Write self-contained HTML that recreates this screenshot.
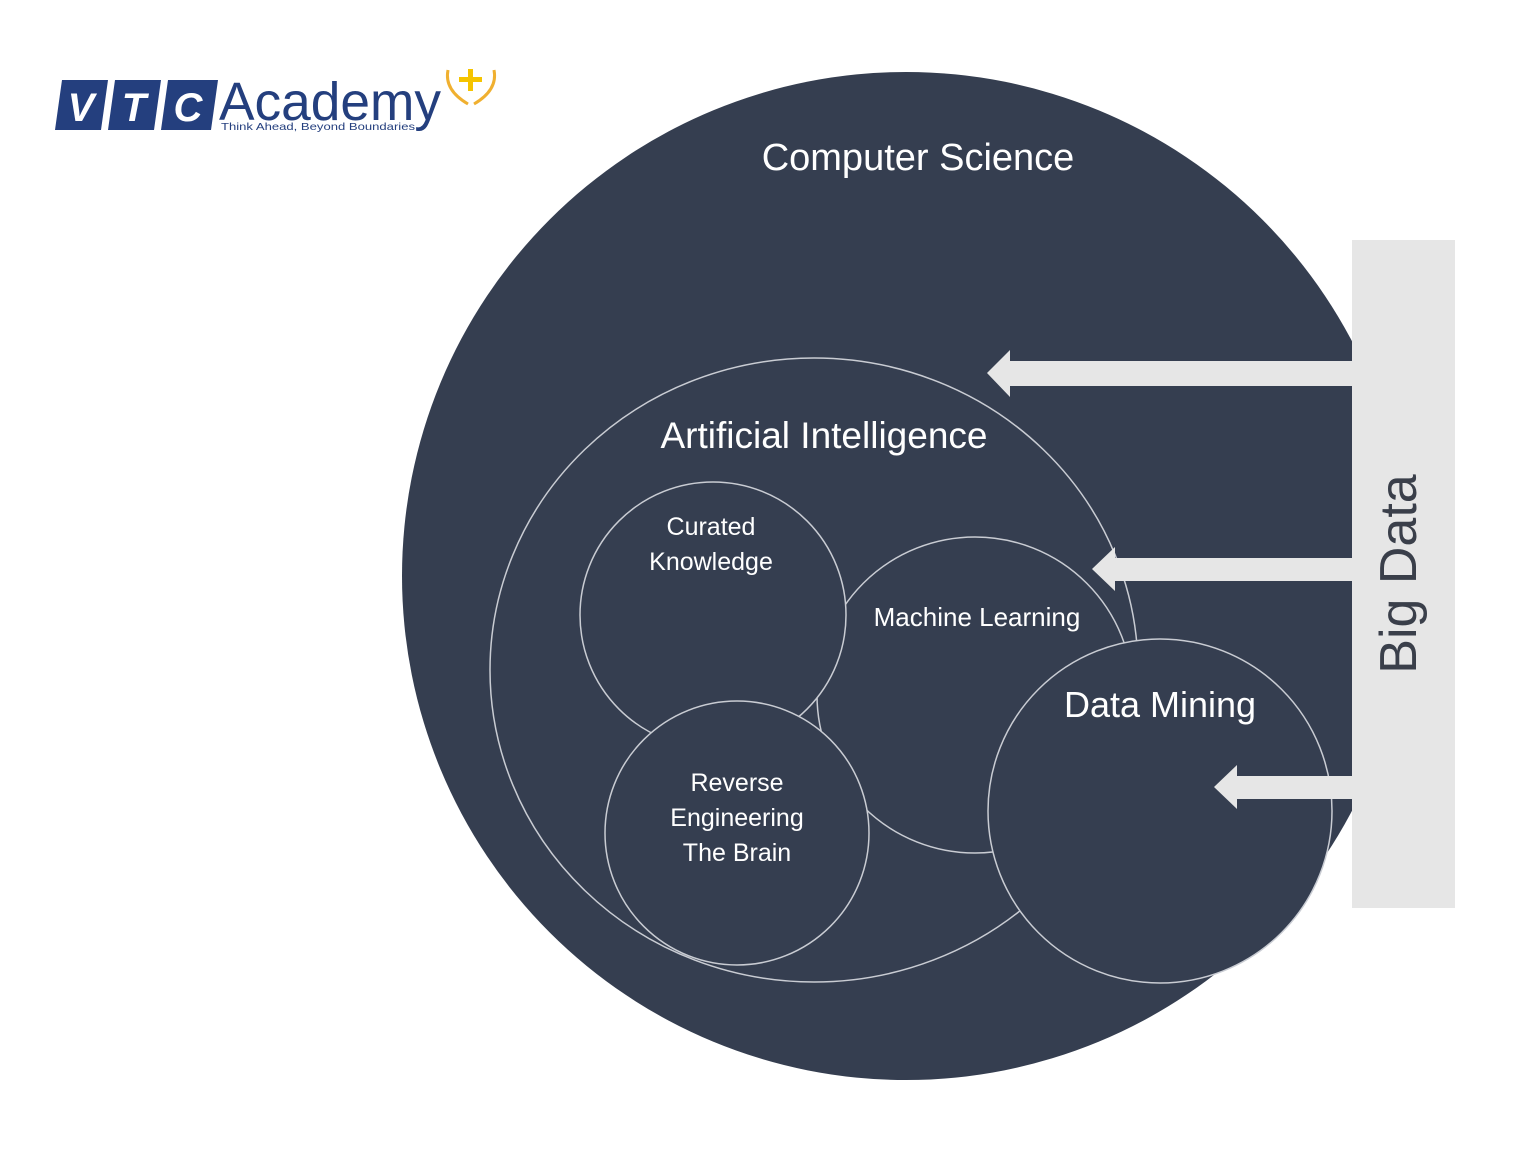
<!DOCTYPE html>
<html><head><meta charset="utf-8"><style>
html,body{margin:0;padding:0;background:#fff;}
svg{display:block;}
text{font-family:"Liberation Sans",sans-serif;}
</style></head><body>
<svg width="1536" height="1152" viewBox="0 0 1536 1152" xmlns="http://www.w3.org/2000/svg">
<defs><clipPath id="c"><rect x="0" y="0" width="1352" height="1152"/></clipPath></defs>
<polygon points="62,80 108,80 101,130 55,130" fill="#243f7e"/>
<polygon points="115,80 161,80 154,130 108,130" fill="#243f7e"/>
<polygon points="168,80 218,80 211,130 161,130" fill="#243f7e"/>
<text x="81" y="121" font-size="40" font-weight="bold" font-style="italic" fill="#fff" text-anchor="middle">V</text>
<text x="134" y="121" font-size="40" font-weight="bold" font-style="italic" fill="#fff" text-anchor="middle">T</text>
<text x="188" y="121" font-size="40" font-weight="bold" font-style="italic" fill="#fff" text-anchor="middle">C</text>
<text x="219" y="120" font-size="54" fill="#243f7e" textLength="222" lengthAdjust="spacingAndGlyphs">Academy</text>
<text x="221" y="130" font-size="10.5" fill="#243f7e" textLength="194" lengthAdjust="spacingAndGlyphs">Think Ahead, Beyond Boundaries</text>
<rect x="468" y="69" width="5" height="22" fill="#f5c400"/>
<rect x="459" y="77" width="23" height="5" fill="#f5c400"/>
<path d="M448,70 Q444,90 468,104" stroke="#f0b030" stroke-width="3" fill="none"/>
<path d="M494,70 Q498,90 474,104" stroke="#f0b030" stroke-width="3" fill="none"/>
<g clip-path="url(#c)">
<circle cx="906" cy="576" r="504" fill="#353e50"/>
</g>
<g fill="#353e50" stroke="#c9ccd3" stroke-width="1.5">
<ellipse cx="814" cy="670" rx="324" ry="312"/>
<circle cx="975" cy="695" r="158"/>
<circle cx="713" cy="615" r="133"/>
<circle cx="737" cy="833" r="132"/>
<circle cx="1160" cy="811" r="172"/>
</g>
<rect x="1352" y="240" width="103" height="668" fill="#e6e6e6"/>
<g fill="#e6e6e6">
<rect x="1008" y="361" width="345" height="25"/>
<polygon points="987,373 1010,350 1010,397"/>
<rect x="1112" y="558" width="241" height="23"/>
<polygon points="1092,569 1115,547 1115,591"/>
<rect x="1235" y="776" width="118" height="23"/>
<polygon points="1214,787 1237,765 1237,809"/>
</g>
<text x="1416" y="574" font-size="52" fill="#3a3f4a" text-anchor="middle" transform="rotate(-90 1416 574)">Big Data</text>
<g fill="#fff" text-anchor="middle">
<text x="918" y="170" font-size="38">Computer Science</text>
<text x="824" y="448" font-size="37">Artificial Intelligence</text>
<text x="711" y="535" font-size="25">Curated</text>
<text x="711" y="570" font-size="25">Knowledge</text>
<text x="977" y="626" font-size="26">Machine Learning</text>
<text x="1160" y="717" font-size="36">Data Mining</text>
<text x="737" y="791" font-size="25">Reverse</text>
<text x="737" y="826" font-size="25">Engineering</text>
<text x="737" y="861" font-size="25">The Brain</text>
</g>
</svg>
</body></html>
